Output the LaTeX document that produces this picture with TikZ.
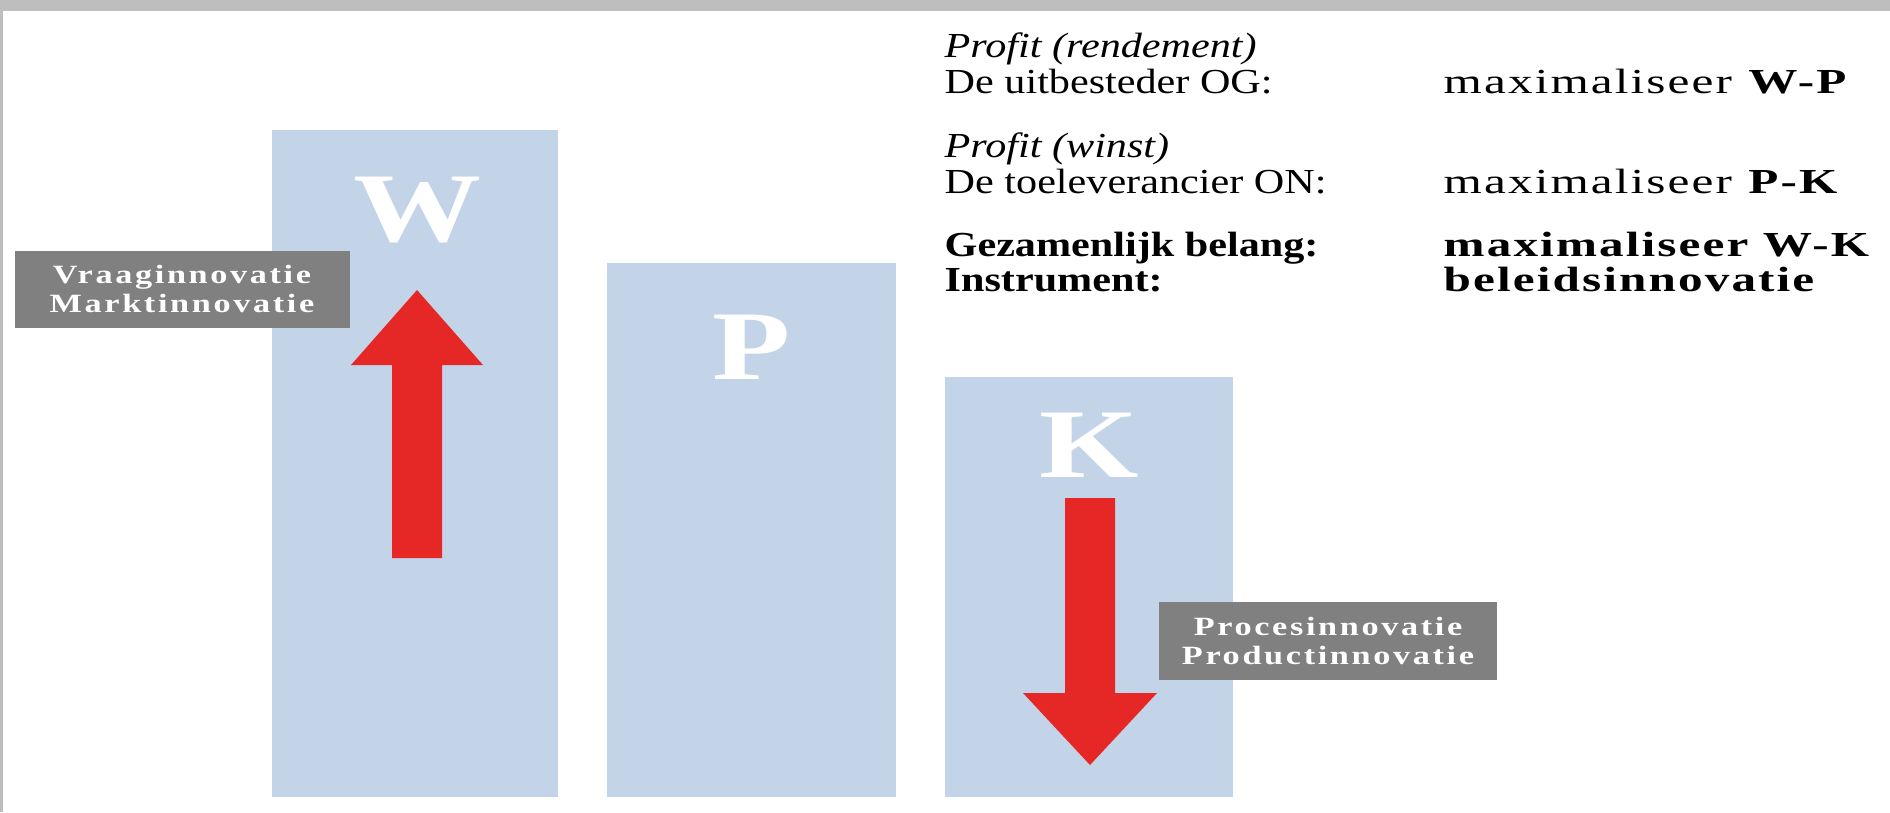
\documentclass[tikz,border=0pt]{standalone}
\usepackage{fontspec}
\setmainfont[FakeStretch=1.2]{Liberation Serif}
\newfontfamily\valuefont[FakeStretch=1.4,LetterSpace=6]{Liberation Serif}
\newfontfamily\labelfont[FakeStretch=1.3,LetterSpace=10]{Liberation Serif}
\newfontfamily\letterfont[FakeStretch=1.3]{Liberation Serif}
\definecolor{barblue}{RGB}{195,211,232}
\definecolor{arrowred}{RGB}{229,40,37}
\definecolor{labelgray}{RGB}{128,128,128}
\definecolor{framegray}{RGB}{190,190,190}

\begin{document}
\begin{tikzpicture}[x=0.1mm,y=-0.1mm,
	bar/.style={fill=barblue},
	letter/.style={text=white,inner sep=0pt,font=\letterfont\fontsize{28}{30}\selectfont\bfseries},
	innolabel/.style={fill=labelgray,text=white,inner sep=0pt,align=center,
		font=\labelfont\fontsize{7.5}{8.2}\selectfont\bfseries},
	txt/.style={anchor=base west,inner sep=0pt,font=\fontsize{10}{12}\selectfont},
	val/.style={txt,font=\valuefont\fontsize{10}{12}\selectfont}]
	\useasboundingbox (0,0) rectangle (1890,812);
	\fill[white] (0,0) rectangle (1890,812);
	\fill[framegray] (0,0) rectangle (1890,11);
	\fill[framegray] (0,0) rectangle (3,812);

	% staven W, P en K
	\fill[bar] (272,130) rectangle (558,797);
	\fill[bar] (607,263) rectangle (896,797);
	\fill[bar] (945,377) rectangle (1233,797);
	\node[letter] (W) at (417,210) {W};
	\node[letter] (P) at (752,347) {P};
	\node[letter] (K) at (1089,445) {K};

	% pijlen
	\fill[arrowred] (392,558) -- (392,365) -- (351,365) -- (417,290)
		-- (483,365) -- (442,365) -- (442,558) -- cycle;
	\fill[arrowred] (1065,498) -- (1065,693) -- (1023,693) -- (1090,765)
		-- (1157,693) -- (1115,693) -- (1115,498) -- cycle;

	\node[innolabel,minimum width=33.5mm,minimum height=7.7mm] (vraag) at (182,289)
		{Vraaginnovatie\\Marktinnovatie};
	\node[innolabel,minimum width=33.8mm,minimum height=7.8mm] (proces) at (1328,641)
		{Procesinnovatie\\Productinnovatie};

	% tekstblok rechtsboven
	\node[txt] (rend) at (944,57) {\itshape Profit (rendement)};
	\node[txt] (og) at (944,93) {De uitbesteder OG:};
	\node[val] (wp) at (1443,93) {maximaliseer \textbf{W-P}};
	\node[txt] (winst) at (944,157) {\itshape Profit (winst)};
	\node[txt] (on) at (944,193) {De toeleverancier ON:};
	\node[val] (pk) at (1443,193) {maximaliseer \textbf{P-K}};
	\node[txt] (belang) at (944,256) {\bfseries Gezamenlijk belang:};
	\node[val] (wk) at (1443,256) {\bfseries maximaliseer W-K};
	\node[txt] (instr) at (944,291) {\bfseries Instrument:};
	\node[val] (beleid) at (1443,291) {\bfseries beleidsinnovatie};
\end{tikzpicture}
\end{document}
